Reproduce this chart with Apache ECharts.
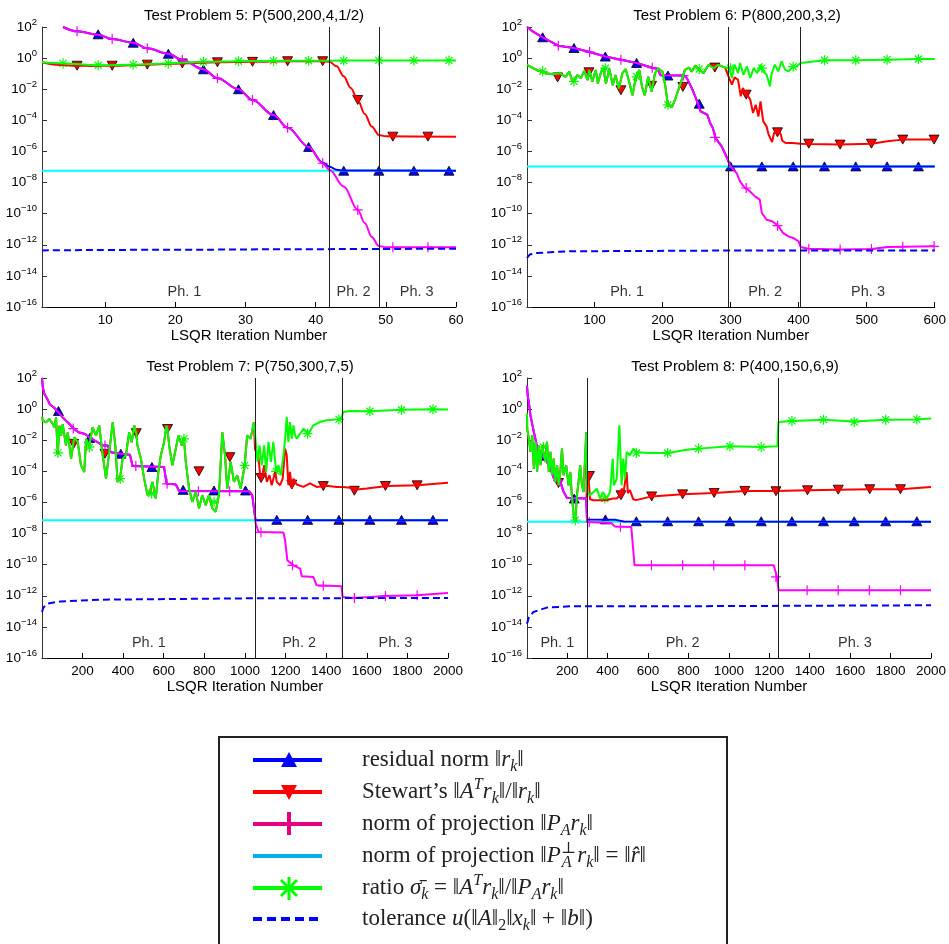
<!DOCTYPE html>
<html>
<head>
<meta charset="utf-8">
<script src="https://cdn.jsdelivr.net/npm/echarts@6/dist/echarts.min.js"></script>
<style>
html, body { margin: 0; padding: 0; background: #fff; }
#chart { width: 949px; height: 944px; }
</style>
</head>
<body>
<div id="chart"></div>
<script>
// all y values are stored as log10 exponents: [x, log10(y)]
var yExp = [-16, -14, -12, -10, -8, -6, -4, -2, 0, 2];
var titles = ['Test Problem 5: P(500,200,4,1/2)', 'Test Problem 6: P(800,200,3,2)',
    'Test Problem 7: P(750,300,7,5)', 'Test Problem 8: P(400,150,6,9)'];
var xMax = [60, 600, 2000, 2000];
var xTicks = [
    [10, 20, 30, 40, 50, 60],
    [100, 200, 300, 400, 500, 600],
    [200, 400, 600, 800, 1000, 1200, 1400, 1600, 1800, 2000],
    [200, 400, 600, 800, 1000, 1200, 1400, 1600, 1800, 2000]
];
var phaseNames = ['Ph. 1', 'Ph. 2', 'Ph. 3'];

// ---- Test problem 5
var p5Proj = [[4, 2.0], [6, 1.72], [9, 1.5], [11, 1.23], [14, 0.99], [16, 0.63], [19, 0.28], [21, -0.12], [24, -0.72], [26, -1.3], [29, -2.0], [31, -2.69], [34, -3.66], [36, -4.47], [39, -5.71], [41, -6.76], [42, -7.19], [44, -8.25], [46, -9.76], [47, -10.6], [48, -11.5], [49, -12.08], [50, -12.16], [60, -12.16]];
var p5ResidTail = [[41, -6.72], [42, -6.98], [43, -7.18], [44, -7.23], [60, -7.24]];
var p5Stew = [[1, -0.27], [3, -0.42], [6, -0.49], [8, -0.5], [11, -0.49], [16, -0.42], [21, -0.34], [26, -0.27], [31, -0.24], [36, -0.2], [41, -0.2], [42, -0.24], [43, -0.53], [44, -1.17], [45, -1.92], [46, -2.69], [47, -3.6], [48, -4.4], [49, -4.94], [50, -5.03], [60, -5.05]];
var p5Perp = [[1, -7.24], [60, -7.24]];
var p5Ratio = [[1, -0.27], [4, -0.34], [9, -0.46], [14, -0.42], [19, -0.34], [24, -0.24], [29, -0.2], [34, -0.18], [39, -0.17], [44, -0.16], [49, -0.15], [54, -0.15], [60, -0.15]];
var p5Tol = [[1, -12.36], [20, -12.32], [40, -12.28], [60, -12.25]];
var p5ResidMk = [[4, 2.02], [9, 1.53], [14, 0.99], [19, 0.28], [24, -0.72], [29, -2.0], [34, -3.66], [39, -5.71], [44, -7.24], [49, -7.24], [54, -7.24], [59, -7.24]];
var p5StewMk = [[6, -0.49], [11, -0.49], [16, -0.42], [21, -0.34], [26, -0.27], [31, -0.24], [36, -0.2], [41, -0.2], [46, -2.69], [51, -5.05], [56, -5.05]];
var p5ProjMk = [[6, 1.72], [11, 1.23], [16, 0.63], [21, -0.12], [26, -1.3], [31, -2.69], [36, -4.47], [41, -6.76], [46, -9.76], [51, -12.16], [56, -12.16]];
var p5RatioMk = [[4, -0.34], [9, -0.46], [14, -0.42], [19, -0.34], [24, -0.24], [29, -0.2], [34, -0.18], [39, -0.17], [44, -0.16], [49, -0.15], [54, -0.15], [59, -0.15]];
var p5Phase = [42, 49];
var p5PhLab = [[21.3, -15.06], [45.4, -15.06], [54.4, -15.06]];

// ---- Test problem 6
var p6Proj = [[1, 2.0], [10, 1.7], [24, 1.34], [47, 0.8], [70, 0.65], [93, 0.39], [116, 0.1], [139, -0.1], [162, -0.31], [185, -0.62], [193, -0.7], [197, -1.1], [232, -1.12], [236, -1.3], [243, -1.92], [251, -2.78], [256, -3.43], [266, -3.64], [270, -4.17], [274, -4.49], [278, -5.14], [287, -5.67], [295, -6.42], [300, -6.96], [309, -7.39], [314, -7.92], [321, -8.35], [326, -8.46], [336, -8.89], [343, -9.1], [346, -9.96], [353, -10.39], [361, -10.49], [370, -10.77], [377, -11.24], [385, -11.46], [392, -11.56], [400, -11.78], [403, -12.14], [414, -12.25], [460, -12.31], [507, -12.27], [531, -12.14], [555, -12.12], [600, -12.1]];
var p6ResidTail = [[295, -6.42], [299, -6.9], [303, -6.96], [600, -6.96]];
var p6Ratio = [[1, -0.43], [10, -0.65], [19, -0.83], [29, -0.98], [39, -1.04], [49, -0.98], [58, -1.2], [63, -0.87], [68, -1.52], [75, -1.09], [80, -1.3], [85, -0.83], [90, -1.41], [92.5, -0.76], [97, -1.52], [102, -0.76], [105, -1.63], [110, -0.87], [113, -0.65], [117, -1.63], [122, -0.7], [127, -1.74], [131, -1.09], [136, -1.96], [141, -0.98], [146, -0.7], [151, -1.52], [156, -2.39], [161, -1.2], [166, -0.76], [170, -1.85], [174, -2.39], [179, -1.2], [184, -2.17], [189, -0.98], [194, -0.65], [200, -0.87], [204, -1.74], [208, -3.0], [214, -3.15], [219, -2.61], [224, -1.96], [229, -1.3], [233, -0.76], [239, -0.61], [243, -0.87], [248, -0.48], [253, -0.7], [260, -0.98], [268, -0.43], [275, -0.65], [282, -0.43], [292, -0.61], [298, -0.64], [302, -1.28], [306, -0.42], [311, -0.96], [314, -0.31], [319, -1.07], [324, -0.53], [329, -1.28], [334, -0.64], [339, -0.96], [344, -0.42], [348, -0.85], [353, -1.07], [358, -1.82], [360, -1.07], [365, -0.42], [370, -0.85], [375, -0.21], [380, -0.74], [385, -0.85], [390, -0.64], [397, -0.53], [403, -0.31], [405, -0.2], [438, -0.14], [484, -0.14], [530, -0.1], [576, -0.06], [600, -0.06]];
var p6StewTail = [[298, -1.28], [302, -1.71], [306, -1.24], [311, -1.39], [315, -2.46], [318, -1.92], [324, -2.35], [329, -2.67], [333, -3.53], [337, -3.0], [341, -3.75], [344, -2.78], [348, -4.07], [353, -4.39], [356, -4.92], [361, -5.39], [364, -4.81], [369, -4.6], [374, -4.92], [376, -5.31], [381, -5.46], [391, -5.46], [403, -5.5], [414, -5.52], [461, -5.56], [508, -5.5], [530, -5.35], [553, -5.24], [600, -5.24]];
var p6Perp = [[1, -6.96], [600, -6.96]];
var p6Tol = [[1, -12.85], [5, -12.63], [15, -12.53], [40, -12.47], [64, -12.42], [300, -12.37], [600, -12.36]];
var p6ResidMk = [[24, 1.34], [70, 0.65], [116, 0.1], [162, -0.31], [208, -1.12], [254, -2.93], [300, -6.96], [346, -6.96], [392, -6.96], [438, -6.96], [484, -6.96], [530, -6.96], [576, -6.96]];
var p6StewMk = [[46, -1.24], [92, -0.91], [139, -2.07], [184, -1.78], [230, -1.85], [277, -0.61], [323, -2.35], [369, -4.77], [415, -5.5], [461, -5.56], [507, -5.5], [553, -5.24], [599, -5.24]];
var p6ProjMk = [[47, 0.8], [93, 0.39], [139, -0.1], [185, -0.62], [231, -1.12], [277, -5.1], [323, -8.35], [369, -10.77], [415, -12.25], [461, -12.31], [507, -12.27], [553, -12.12], [599, -12.1]];
var p6RatioMk = [[24, -0.85], [70, -1.5], [116, -0.65], [162, -1.2], [208, -3.0], [254, -0.7], [300, -0.64], [346, -0.64], [392, -0.55], [438, -0.14], [484, -0.14], [530, -0.1], [576, -0.06]];
var p6Phase = [297, 403];
var p6PhLab = [[148, -15.06], [351, -15.06], [502, -15.06]];

// ---- Test problem 7
var p7Proj = [[1, 2.0], [5, 1.4], [12, 1.0], [25, 0.7], [40, 0.3], [60, 0.1], [78, -0.15], [103, -0.53], [136, -0.96], [160, -1.28], [180, -1.49], [213, -1.6], [234, -1.81], [275, -2.13], [300, -2.34], [324, -2.34], [340, -2.77], [389, -2.87], [434, -2.94], [447, -3.66], [602, -3.72], [614, -4.79], [660, -4.85], [676, -5.26], [1020, -5.28], [1036, -5.53], [1049, -6.81], [1053, -7.36], [1059, -7.58], [1067, -7.9], [1190, -7.94], [1198, -8.44], [1209, -9.72], [1239, -10.04], [1272, -10.26], [1280, -10.75], [1337, -10.79], [1353, -11.33], [1476, -11.39], [1481, -12.08], [1533, -12.14], [1697, -12.01], [1844, -11.97], [2000, -11.82]];
var p7ResidTail = [[1049, -6.81], [1053, -7.15], [2000, -7.15]];
var p7Ratio = [[1, -0.5], [5, -0.74], [21, -0.85], [37, -0.64], [54, -0.96], [62, -1.17], [70, -0.53], [78.5, -2.87], [87, -1.06], [95, -1.7], [103, -0.96], [119, -2.34], [128, -1.49], [144, -3.19], [160, -1.81], [177, -2.13], [193, -3.62], [209, -4.04], [218, -1.91], [234, -2.34], [250, -1.17], [267, -1.7], [283, -1.06], [296, -2.55], [308, -3.72], [316, -4.47], [332, -2.77], [349, -0.85], [362, -2.34], [373, -4.68], [385, -4.47], [398, -3.19], [414, -2.98], [430, -1.49], [443, -2.13], [455, -1.06], [465, -1.55], [471, -2.34], [488, -3.19], [504, -4.47], [520, -5.53], [532, -5.32], [545, -4.68], [561, -5.74], [574, -4.04], [586, -2.98], [602, -2.13], [614, -1.06], [619, -1.28], [627, -2.34], [643, -3.62], [656, -2.77], [673, -1.7], [689, -2.34], [700, -1.91], [709, -3.4], [725, -5.11], [741, -5.96], [758, -5.32], [774, -6.38], [790, -5.53], [807, -6.17], [823, -5.53], [840, -6.38], [856, -6.6], [872, -5.53], [889, -1.49], [902, -2.98], [913, -5.11], [930, -3.4], [946, -4.68], [962, -4.26], [979, -5.11], [999, -3.62], [1011, -1.7], [1028, -1.91], [1044, -0.85], [1046, -0.83], [1055, -2.33], [1062, -3.4], [1072, -2.33], [1083, -3.61], [1095, -2.33], [1105, -4.04], [1116, -2.11], [1128, -3.4], [1140, -2.11], [1154, -4.04], [1165, -3.61], [1177, -4.25], [1190, -2.97], [1198, -1.9], [1206, -0.51], [1214, -2.11], [1222, -0.83], [1231, -1.9], [1239, -1.04], [1247, -1.68], [1255, -1.9], [1272, -1.58], [1288, -1.26], [1313, -1.58], [1337, -1.04], [1370, -0.83], [1402, -0.72], [1460, -0.66], [1476, -0.57], [1484, -0.18], [1517, -0.12], [1615, -0.14], [1771, -0.04], [1926, -0.01], [2000, -0.02]];
var p7StewTail = [[1050, -2.6], [1055, -2.54], [1066, -2.97], [1075, -4.25], [1083, -4.47], [1095, -3.61], [1108, -4.68], [1121, -4.25], [1132, -4.89], [1149, -4.04], [1157, -4.68], [1173, -4.89], [1186, -4.47], [1198, -2.54], [1206, -2.97], [1214, -4.89], [1222, -4.04], [1231, -5.1], [1239, -4.47], [1255, -4.85], [1288, -5.0], [1321, -4.78], [1353, -5.0], [1402, -4.93], [1451, -5.0], [1484, -5.0], [1517, -5.06], [1540, -5.18], [1600, -5.1], [1700, -4.94], [1850, -4.9], [2000, -4.73]];
var p7Perp = [[1, -7.15], [2000, -7.15]];
var p7Tol = [[1, -13.04], [8, -12.75], [28, -12.5], [93, -12.36], [290, -12.25], [1050, -12.16], [2000, -12.14]];
var p7ResidMk = [[82, -0.12], [236, -1.85], [389, -2.87], [542, -3.72], [696, -5.19], [848, -5.23], [1003, -5.23], [1157, -7.12], [1309, -7.12], [1463, -7.12], [1615, -7.12], [1771, -7.12], [1926, -7.12]];
var p7StewMk = [[157, -2.23], [311, -2.87], [465, -1.55], [619, -1.28], [774, -4.0], [926, -3.09], [1080, -4.43], [1231, -4.85], [1386, -4.95], [1539, -5.25], [1692, -4.94], [1848, -4.9]];
var p7ProjMk = [[155, -1.25], [311, -2.34], [463, -3.66], [617, -4.8], [771, -5.28], [925, -5.28], [1079, -7.92], [1234, -10.04], [1386, -11.36], [1539, -12.14], [1692, -12.01], [1848, -11.97]];
var p7RatioMk = [[80, -2.81], [234, -2.45], [386, -4.47], [540, -5.43], [700, -1.91], [848, -5.96], [999, -3.62], [1154, -4.0], [1308, -1.58], [1463, -0.66], [1615, -0.14], [1771, -0.04], [1926, -0.01]];
var p7Phase = [1051, 1480];
var p7PhLab = [[527, -15.03], [1267, -15.03], [1741, -15.03]];

// ---- Test problem 8
var p8Proj = [[1, 1.5], [5, 0.8], [10, 0.46], [18, -0.4], [35, -1.47], [51, -2.43], [68, -2.97], [84, -3.07], [100, -3.4], [117, -3.82], [133, -4.42], [166, -4.68], [182, -5.32], [199, -5.71], [294, -5.75], [298, -7.25], [418, -7.32], [435, -7.54], [517, -7.58], [533, -10.04], [1222, -10.04], [1238, -10.79], [1246, -11.65], [2000, -11.65]];
var p8ResidTail = [[294, -5.75], [298, -7.1], [440, -7.12], [480, -7.22], [2000, -7.24]];
var p8Ratio = [[1, -0.29], [2, -1.25], [10, -1.9], [18, -2.75], [27, -1.68], [35, -3.83], [43, -2.11], [51, -4.04], [59, -2.33], [68, -3.61], [76, -2.33], [82, -2.43], [92, -3.4], [100, -2.11], [109, -4.04], [117, -2.75], [125, -4.25], [133, -3.18], [141, -4.68], [150, -3.61], [158, -4.9], [166, -4.04], [174, -2.54], [182, -4.25], [195, -3.61], [207, -4.9], [215, -4.04], [223, -5.54], [232, -6.83], [240, -7.25], [248, -5.54], [256, -4.68], [264, -3.61], [273, -4.9], [281, -5.33], [294, -1.47], [300, -5.33], [313, -5.54], [330, -5.33], [346, -5.11], [363, -5.75], [376, -5.33], [395, -5.75], [412, -5.33], [425, -3.18], [431, -4.9], [445, -4.47], [458, -1.04], [469, -4.9], [477, -3.18], [486, -4.47], [494, -2.75], [510, -2.97], [527, -2.54], [543, -2.75], [600, -2.82], [697, -2.82], [800, -2.6], [850, -2.54], [1005, -2.39], [1160, -2.44], [1240, -2.39], [1245, -0.83], [1312, -0.76], [1468, -0.68], [1620, -0.8], [1776, -0.68], [1930, -0.66], [2000, -0.61]];
var p8StewTail = [[296, -5.75], [300, -4.1], [305, -4.3], [313, -5.8], [330, -5.86], [363, -5.86], [395, -5.86], [425, -5.75], [445, -5.75], [460, -5.54], [470, -5.11], [477, -5.5], [494, -4.04], [500, -5.4], [510, -5.2], [527, -5.8], [540, -5.85], [618, -5.61], [771, -5.48], [927, -5.39], [1079, -5.26], [1233, -5.26], [1389, -5.22], [1541, -5.18], [1697, -5.15], [1849, -5.15], [2000, -5.0]];
var p8Perp = [[1, -7.24], [2000, -7.24]];
var p8Tol = [[1, -13.8], [10, -13.4], [33, -13.04], [99, -12.76], [213, -12.68], [600, -12.68], [2000, -12.61]];
var p8ResidMk = [[79, -3.0], [235, -5.75], [389, -7.09], [542, -7.21], [697, -7.21], [850, -7.21], [1005, -7.21], [1160, -7.21], [1312, -7.21], [1468, -7.21], [1620, -7.21], [1776, -7.21], [1930, -7.21]];
var p8StewMk = [[157, -4.75], [310, -4.3], [466, -5.54], [618, -5.61], [771, -5.48], [927, -5.39], [1079, -5.26], [1233, -5.28], [1389, -5.22], [1541, -5.18], [1697, -5.15], [1849, -5.15]];
var p8ProjMk = [[155, -4.6], [309, -7.25], [463, -7.56], [617, -10.04], [771, -10.04], [925, -10.04], [1079, -10.04], [1233, -10.79], [1387, -11.65], [1541, -11.65], [1695, -11.65], [1849, -11.65]];
var p8RatioMk = [[82, -2.43], [240, -7.14], [386, -5.75], [542, -2.82], [697, -2.82], [850, -2.54], [1005, -2.39], [1160, -2.44], [1312, -0.76], [1468, -0.68], [1620, -0.83], [1776, -0.68], [1930, -0.66]];
var p8Phase = [297, 1243];
var p8PhLab = [[151, -15.03], [771, -15.03], [1624, -15.03]];

// the curves coincide before the phase change, so reuse the same readings there
function before(arr, x) {
    return arr.filter(function (p) { return p[0] < x; });
}
var panels = [
    {resid: before(p5Proj, 41).concat(p5ResidTail), stew: p5Stew, proj: p5Proj, perp: p5Perp, ratio: p5Ratio, tol: p5Tol,
        residMk: p5ResidMk, stewMk: p5StewMk, projMk: p5ProjMk, ratioMk: p5RatioMk, phase: p5Phase, phLab: p5PhLab, smooth: 0.35},
    {resid: before(p6Proj, 295).concat(p6ResidTail), stew: before(p6Ratio, 298).concat(p6StewTail), proj: p6Proj, perp: p6Perp, ratio: p6Ratio, tol: p6Tol,
        residMk: p6ResidMk, stewMk: p6StewMk, projMk: p6ProjMk, ratioMk: p6RatioMk, phase: p6Phase, phLab: p6PhLab, smooth: false},
    {resid: before(p7Proj, 1049).concat(p7ResidTail), stew: before(p7Ratio, 1050).concat(p7StewTail), proj: p7Proj, perp: p7Perp, ratio: p7Ratio, tol: p7Tol,
        residMk: p7ResidMk, stewMk: p7StewMk, projMk: p7ProjMk, ratioMk: p7RatioMk, phase: p7Phase, phLab: p7PhLab, smooth: false},
    {resid: before(p8Proj, 294).concat(p8ResidTail), stew: before(p8Ratio, 296).concat(p8StewTail), proj: p8Proj, perp: p8Perp, ratio: p8Ratio, tol: p8Tol,
        residMk: p8ResidMk, stewMk: p8StewMk, projMk: p8ProjMk, ratioMk: p8RatioMk, phase: p8Phase, phLab: p8PhLab, smooth: false}
];

var grids = [
    {left: 42, top: 27, width: 414, height: 280},
    {left: 527, top: 27, width: 410, height: 280},
    {left: 42, top: 378, width: 406, height: 280},
    {left: 527, top: 378, width: 406, height: 280}
];

var SANS = "'Liberation Sans', Arial, sans-serif";
var SERIF = "'Liberation Serif', 'DejaVu Serif', serif";
var PLUS = 'path://M5,0L5,10M0,5L10,5';
var STAR = 'path://M5,0L5,10M0,5L10,5M1.5,1.5L8.5,8.5M1.5,8.5L8.5,1.5';
var yVals = yExp.map(function (e) { return Math.pow(10, e); });

function pts(arr) {
    return arr.map(function (p) { return [p[0], Math.pow(10, p[1])]; });
}
function lineSeries(i, arr, color, width, dash, smooth) {
    return {
        type: 'line', xAxisIndex: i, yAxisIndex: i, data: pts(arr), symbol: 'none',
        smooth: smooth || false, smoothMonotone: 'x', silent: true,
        lineStyle: {color: color, width: width, type: dash || 'solid'}
    };
}
function markSeries(i, arr, symbol, size, fill, stroke, bw, rotate) {
    return {
        type: 'scatter', xAxisIndex: i, yAxisIndex: i, data: pts(arr), symbol: symbol,
        symbolSize: size, symbolRotate: rotate || 0, silent: true,
        itemStyle: {color: fill, borderColor: stroke, borderWidth: bw, opacity: 1}
    };
}

var series = [];
panels.forEach(function (P, i) {
    series.push(lineSeries(i, P.perp, '#00ffff', 2));
    series.push(lineSeries(i, P.resid, '#0000ff', 2, null, P.smooth));
    series.push(lineSeries(i, P.stew, '#ff0000', 2, null, P.smooth));
    series.push(lineSeries(i, P.proj, '#ff00ff', 2, null, P.smooth));
    series.push(lineSeries(i, P.ratio, '#00ff00', 2, null, P.smooth));
    series.push(lineSeries(i, P.tol, '#0000ff', 2, [7, 4], P.smooth));
    series.push(markSeries(i, P.residMk, 'triangle', [10, 9], '#0000ff', '#000', 0.8));
    series.push(markSeries(i, P.stewMk, 'triangle', [10, 9], '#ff0000', '#000', 0.8, 180));
    series.push(markSeries(i, P.projMk, PLUS, 10, 'rgba(0,0,0,0)', '#ff00ff', 1.2));
    series.push(markSeries(i, P.ratioMk, STAR, 10, 'rgba(0,0,0,0)', '#00ff00', 1.2));
    series.push({
        type: 'scatter', xAxisIndex: i, yAxisIndex: i, symbol: 'circle', symbolSize: 1, silent: true,
        itemStyle: {color: 'rgba(0,0,0,0)'},
        data: P.phLab.map(function (p, k) { return {name: phaseNames[k], value: [p[0], Math.pow(10, p[1])]}; }),
        label: {show: true, position: 'inside', formatter: '{b}', color: '#000', fontSize: 14.5, fontFamily: SANS},
        markLine: {
            silent: true, symbol: ['none', 'none'], label: {show: false},
            lineStyle: {color: '#222', width: 1, type: 'solid'},
            data: P.phase.map(function (x) { return {xAxis: x}; })
        }
    });
});

function fmtY(v) {
    var e = Math.round(Math.log(v) / Math.LN10);
    return '{b|10}{s|' + (e < 0 ? '\u2212' + (-e) : e) + '}';
}

var option = {
    backgroundColor: '#fff',
    animation: false,
    textStyle: {fontFamily: SANS},
    title: grids.map(function (g, i) {
        return {
            text: titles[i], left: g.left + g.width / 2, top: g.top - 24, textAlign: 'center',
            textStyle: {fontSize: 15, fontWeight: 'normal', color: '#000', fontFamily: SANS}
        };
    }),
    grid: grids,
    xAxis: grids.map(function (g, i) {
        return {
            gridIndex: i, type: 'value', min: 1, max: xMax[i],
            name: 'LSQR Iteration Number', nameLocation: 'middle', nameGap: 19,
            nameTextStyle: {fontSize: 15, color: '#000', fontFamily: SANS},
            axisLine: {show: true, onZero: false, lineStyle: {color: '#000', width: 1}},
            axisTick: {show: true, inside: true, length: 5, customValues: xTicks[i], lineStyle: {color: '#000'}},
            axisLabel: {
                customValues: xTicks[i], fontSize: 13.5, color: '#000', margin: 6, fontFamily: SANS,
                formatter: function (v) { return String(Math.round(v)); }
            },
            splitLine: {show: false}
        };
    }),
    yAxis: grids.map(function (g, i) {
        return {
            gridIndex: i, type: 'log', logBase: 10, min: 1e-16, max: 1e2,
            axisLine: {show: true, onZero: false, lineStyle: {color: '#333', width: 1}},
            axisTick: {show: true, inside: true, length: 5, customValues: yVals, lineStyle: {color: '#333'}},
            axisLabel: {
                customValues: yVals, formatter: fmtY, margin: 5,
                rich: {
                    b: {fontSize: 13.5, lineHeight: 20, color: '#000', fontFamily: SANS},
                    s: {fontSize: 9.5, lineHeight: 10, verticalAlign: 'top', color: '#000', fontFamily: SANS}
                }
            },
            splitLine: {show: false},
            minorTick: {show: false}
        };
    }),
    series: series
};

// ---- legend box (drawn by hand, like the LaTeX legend of the figure)
var legendY = [760, 792, 824, 856, 888, 919];
var legendColors = ['#0000ff', '#ff0000', '#e5007d', '#00aeef', '#00ff00', '#0000ff'];
var legendTexts = [
    '{n|residual norm ‖}{i|r}{s|k}{n|‖}',
    '{n|Stewart’s ‖}{i|A}{p|T}{i|r}{s|k}{n|‖/‖}{i|r}{s|k}{n|‖}',
    '{n|norm of projection ‖}{i|P}{s|A}{i|r}{s|k}{n|‖}',
    '{n|norm of projection ‖}{i|P}{pz|⊥}{s|A}{i| r}{s|k}{n|‖ = ‖}{i|r̂}{n|‖}',
    '{n|ratio }{i|σ̄}{s|k}{n| = ‖}{i|A}{p|T}{i|r}{s|k}{n|‖/‖}{i|P}{s|A}{i|r}{s|k}{n|‖}',
    '{n|tolerance }{i|u}{n|(‖}{i|A}{n|‖}{sn|2}{n|‖}{i|x}{s|k}{n|‖ + ‖}{i|b}{n|‖)}'
];
var rich = {
    n: {fontFamily: SERIF, fontSize: 23, lineHeight: 30, fill: '#222'},
    i: {fontFamily: SERIF, fontSize: 23, lineHeight: 30, fontStyle: 'italic', fill: '#222'},
    s: {fontFamily: SERIF, fontSize: 16, lineHeight: 16, fontStyle: 'italic', verticalAlign: 'bottom', fill: '#222'},
    sn: {fontFamily: SERIF, fontSize: 16, lineHeight: 16, verticalAlign: 'bottom', fill: '#222'},
    p: {fontFamily: SERIF, fontSize: 16, lineHeight: 16, fontStyle: 'italic', verticalAlign: 'top', fill: '#222'},
    pz: {fontFamily: SERIF, fontSize: 16, lineHeight: 16, verticalAlign: 'top', width: 1, fill: '#222'}
};
var graphic = [{
    type: 'rect', shape: {x: 219, y: 737, width: 508, height: 215},
    style: {fill: 'none', stroke: '#222', lineWidth: 2}
}];
legendY.forEach(function (y, k) {
    graphic.push({
        type: 'line', shape: {x1: 253, y1: y, x2: 322, y2: y},
        style: {stroke: legendColors[k], lineWidth: 4, lineDash: k === 5 ? [9, 5] : null}
    });
    graphic.push({
        type: 'text', x: 362, y: y,
        style: {text: legendTexts[k], rich: rich, verticalAlign: 'middle', align: 'left', fill: '#222'}
    });
});
graphic.push({type: 'polygon', shape: {points: [[289, 752], [281, 767], [297, 767]]}, style: {fill: '#0000ff'}});
graphic.push({type: 'polygon', shape: {points: [[281, 785], [297, 785], [289, 800]]}, style: {fill: '#ff0000'}});
graphic.push({type: 'line', shape: {x1: 289, y1: 812, x2: 289, y2: 835}, style: {stroke: '#e5007d', lineWidth: 4}});
graphic.push({type: 'line', shape: {x1: 289, y1: 877, x2: 289, y2: 900}, style: {stroke: '#00ff00', lineWidth: 3}});
graphic.push({type: 'line', shape: {x1: 281, y1: 880, x2: 297, y2: 896}, style: {stroke: '#00ff00', lineWidth: 3}});
graphic.push({type: 'line', shape: {x1: 281, y1: 896, x2: 297, y2: 880}, style: {stroke: '#00ff00', lineWidth: 3}});
option.graphic = graphic;

var chart = echarts.init(document.getElementById('chart'));
chart.setOption(option);
</script>
</body>
</html>
